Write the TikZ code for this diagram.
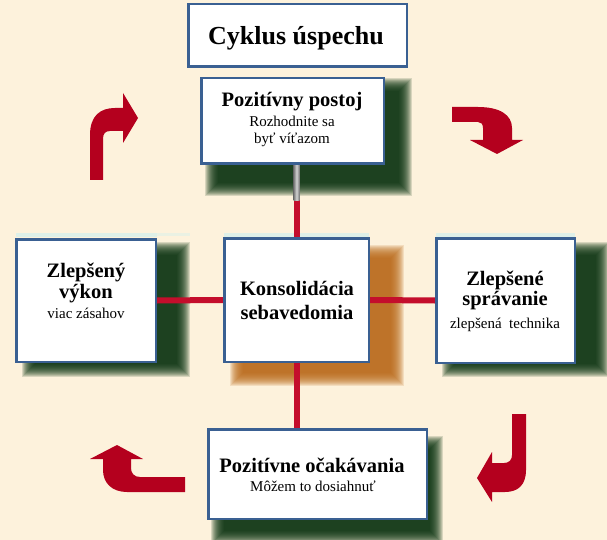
\documentclass[tikz,border=0pt]{standalone}
\usepackage{fontspec}
\setmainfont{Liberation Serif}
\definecolor{bg}{RGB}{253,242,220}
\definecolor{boxblue}{RGB}{58,96,146}
\definecolor{arrred}{RGB}{180,0,30}
\definecolor{connred}{RGB}{196,14,44}
\definecolor{shgreen}{RGB}{6,48,14}
\definecolor{shorange}{RGB}{186,104,24}
\definecolor{stripcol}{RGB}{222,240,232}
\pgfdeclarelayer{backdrop}
\pgfdeclarelayer{links}
\pgfsetlayers{backdrop,links,main}
\newcommand\softshadow[5]{%
  \foreach \k in {0,...,13}{\fill[#5,opacity=0.15] (#1+\k,#2+\k) rectangle (#3-\k,#4-\k);}}
\begin{document}
\begin{tikzpicture}[x=1pt,y=-1pt,
  box/.style={draw=boxblue,line width=2.5pt,fill=white,inner sep=0pt,rectangle},
  titlefont/.style={font=\fontsize{26}{30}\selectfont\bfseries,anchor=base,inner sep=0pt},
  headfont/.style={font=\fontsize{20.5}{24}\selectfont\bfseries,anchor=base,inner sep=0pt},
  subfont/.style={font=\fontsize{15}{18}\selectfont,anchor=base,inner sep=0pt},
  conn/.style={connred,line width=6pt},
  arrowshape/.style={fill=arrred},
]
\useasboundingbox (0,0) rectangle (607,540);

\begin{pgfonlayer}{backdrop}
\fill[bg] (0,0) rectangle (607,540);
% shadows
\softshadow{205}{78}{412}{196}{shgreen}
\softshadow{22}{242}{190}{377}{shgreen}
\softshadow{442}{242}{609}{377}{shgreen}
\softshadow{230}{245}{404}{386}{shorange}
\softshadow{211}{436}{443}{544}{shgreen}
% light strips
\fill[stripcol] (16,233) rectangle (157,237);
\fill[stripcol!60!bg] (157,233) rectangle (190,236);
\fill[stripcol] (224,233) rectangle (369,237);
\fill[stripcol] (436,233) rectangle (575,237);
\end{pgfonlayer}

% boxes
\node[box,minimum width=218.5pt,minimum height=62.5pt] (title) at (297.5,35.5) {};
\node[box,minimum width=182.5pt,minimum height=85.5pt] (top) at (292.5,121) {};
\node[box,minimum width=139.5pt,minimum height=122.5pt] (left) at (86,300.5) {};
\node[box,minimum width=144.5pt,minimum height=123.5pt] (center) at (296.5,300) {};
\node[box,minimum width=138.5pt,minimum height=124.5pt] (right) at (505.5,300.5) {};
\node[box,minimum width=218.5pt,minimum height=89.5pt] (bottom) at (317.5,474) {};

% connectors
\begin{pgfonlayer}{links}
\draw[conn] (top.south -| center.north) coordinate (tc) -- (center.north);
\shade[left color=gray!90!black,right color=gray!90!black,middle color=gray!35] ([xshift=-3pt]tc) rectangle ([xshift=3pt,yshift=-35pt]tc);
\draw[conn] (center.south) -- (center.south |- bottom.north);
\draw[conn] (left.east) -- (center.west);
\draw[conn] (center.east) -- (right.west);
\end{pgfonlayer}

% texts
\node[titlefont] (t0) at (296,45) {Cyklus úspechu};
\node[headfont] (t1) at (292,107) {Pozitívny postoj};
\node[subfont] (t2) at (292,127) {Rozhodnite sa};
\node[subfont] (t3) at (292,144) {byť víťazom};
\node[headfont] (t4) at (86,277) {Zlepšený};
\node[headfont] (t5) at (86,298) {výkon};
\node[subfont] (t6) at (86,318) {viac zásahov};
\node[headfont] (t7) at (297,295) {Konsolidácia};
\node[headfont] (t8) at (297,319) {sebavedomia};
\node[headfont] (t9) at (505,285) {Zlepšené};
\node[headfont] (t10) at (505,305) {správanie};
\node[subfont] (t11) at (505,328) {zlepšená\ \ technika};
\node[headfont] (t12) at (312,472) {Pozitívne očakávania};
\node[subfont] (t13) at (313,491) {Môžem to dosiahnuť};

% curved arrows
\fill[arrowshape] (90,180) -- (90,135) .. controls (90,116) and (100,108) .. (115,108) -- (123,108) -- (123,93) -- (138,118) -- (123,143) -- (123,131) -- (110,131) .. controls (105,131) and (103,134) .. (103,139) -- (103,180) -- cycle;
\fill[arrowshape] (452,107) -- (478,107) .. controls (500,107) and (512,115) .. (512,128) -- (512,140) -- (523,140) -- (497,154) -- (470,140) -- (483,140) -- (483,128) .. controls (483,124) and (481,122) .. (478,122) -- (452,122) -- cycle;
\fill[arrowshape] (512,414) -- (526,414) -- (526,470) .. controls (526,485) and (518,492) .. (505,492) -- (492,492) -- (492,502) -- (477,478) -- (492,452) -- (492,463) -- (504,463) .. controls (509,463) and (512,460) .. (512,455) -- cycle;
\fill[arrowshape] (185,477) -- (140,477) .. controls (134,477) and (131,473) .. (131,468) -- (131,459) -- (143,459) -- (117,445) -- (90,459) -- (103,459) -- (103,470) .. controls (103,483) and (112,492) .. (127,492) -- (185,492) -- cycle;
\end{tikzpicture}
\end{document}
